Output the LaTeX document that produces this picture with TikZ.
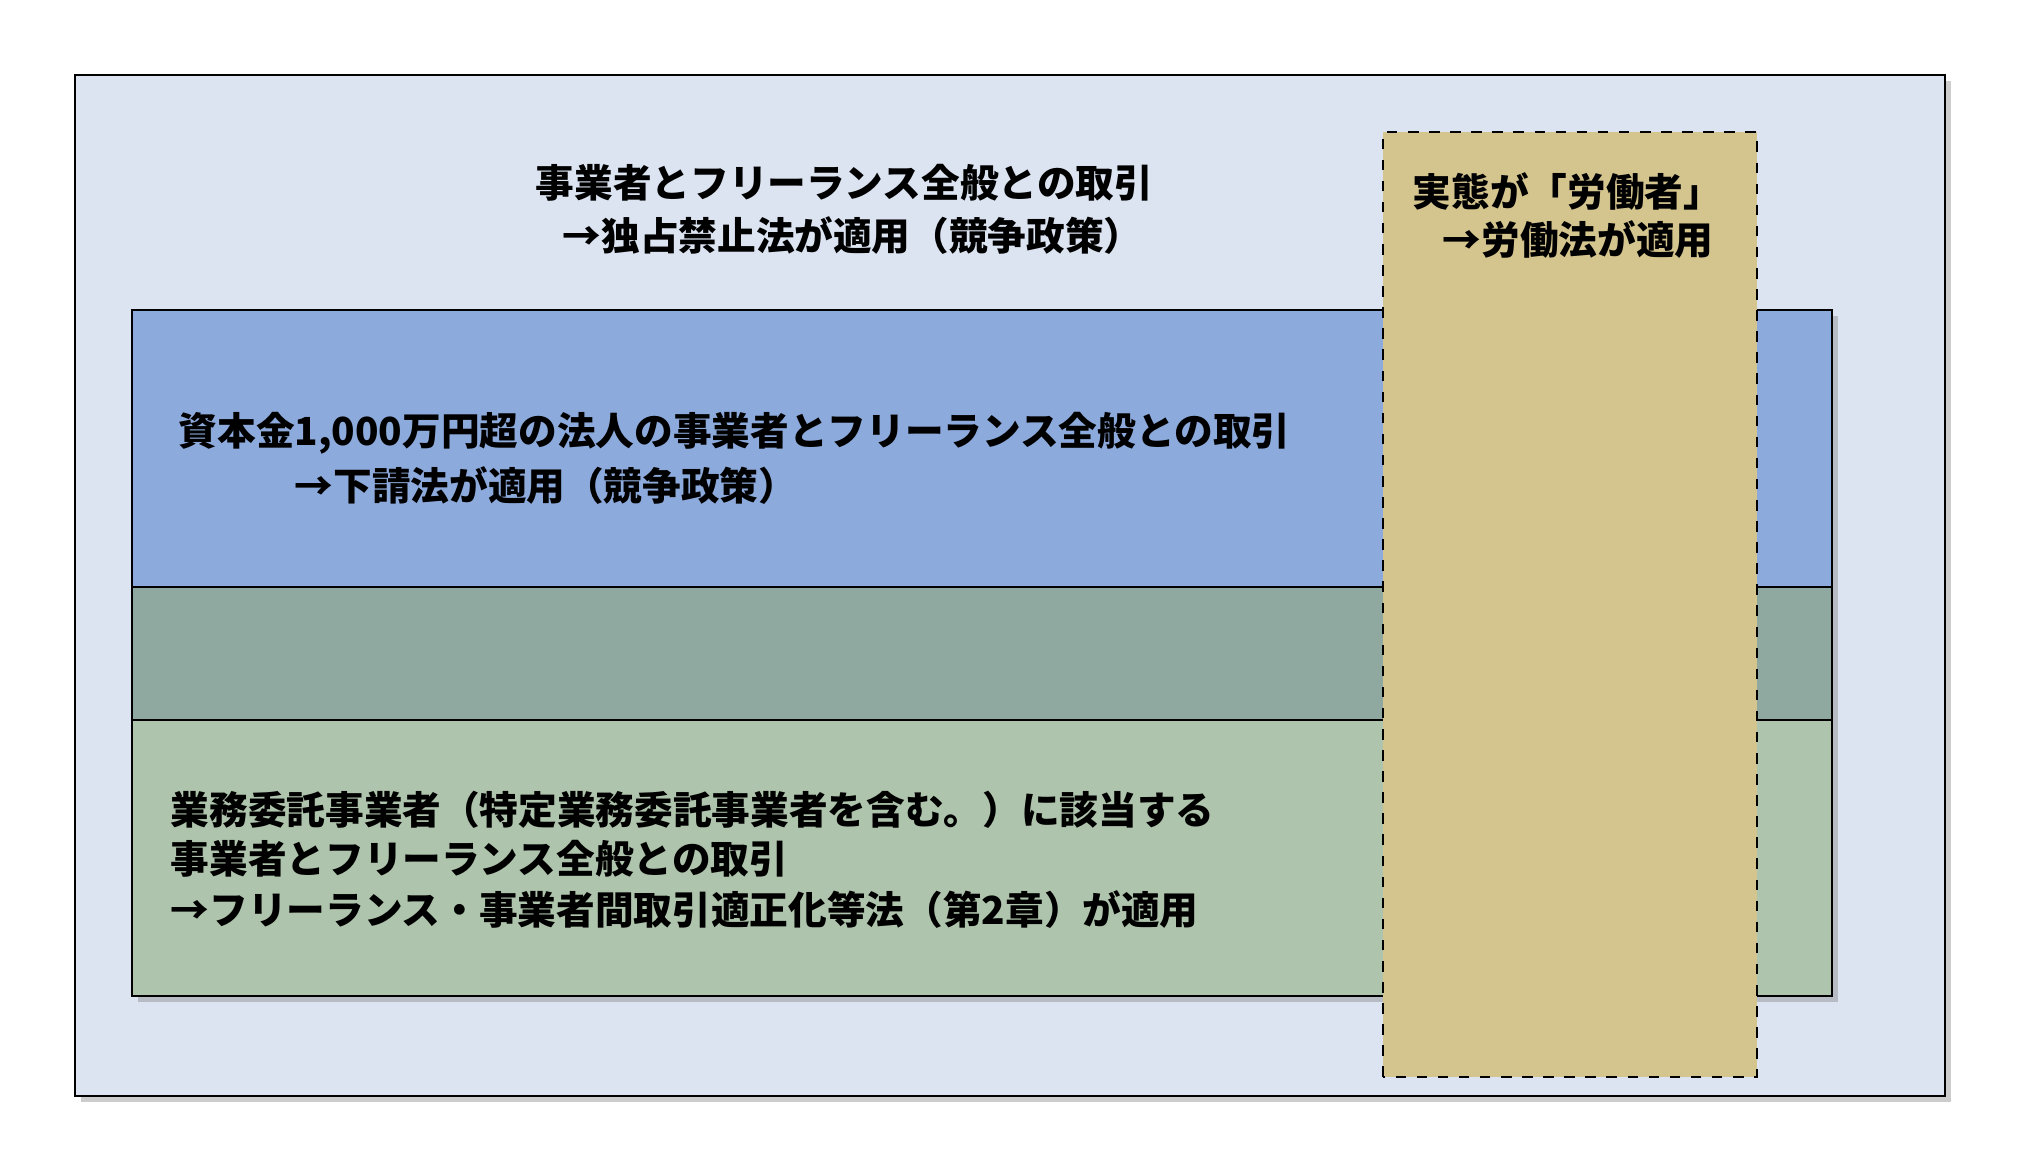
\documentclass[tikz,border=0pt]{standalone}
\usepackage{fontspec}
\newfontfamily\jpfont{Noto Sans CJK JP}
\usetikzlibrary{shadows}
\definecolor{outerbg}{RGB}{220,228,242}
\definecolor{bluebox}{RGB}{141,170,220}
\definecolor{midbox}{RGB}{143,168,160}
\definecolor{greenbox}{RGB}{175,196,172}
\definecolor{tanbox}{RGB}{212,196,142}
\tikzset{
  lawtext/.style={anchor=west, inner sep=0pt, font=\jpfont\bfseries\fontsize{11}{15}\selectfont},
  layer/.style={draw=black, thick, drop shadow={shadow xshift=0.6mm, shadow yshift=-0.6mm, opacity=0.4}}
}
\begin{document}
\begin{tikzpicture}
\useasboundingbox (0,0) rectangle (20.22,11.58);
%%%%%%%%%%%%%%%%%%%%%%%%%%%%%%%%%%%%%%%%%%% layers
\draw[layer, fill=outerbg] (0.75,0.62) rectangle (19.45,10.83);
\draw[layer, fill=bluebox] (1.32,5.71) rectangle (18.32,8.48);
\draw[layer, fill=midbox] (1.32,4.38) rectangle (18.32,5.71);
\draw[layer, fill=greenbox] (1.32,1.62) rectangle (18.32,4.38);
\draw[thick, dashed, fill=tanbox] (13.83,0.81) rectangle (17.57,10.26);

%%%%%%%%%%%%%%%%%%%%%%%%%%%%%%%%%%%%%%%%%%% texts
\node[lawtext] (gen1) at (5.35,9.75) {事業者とフリーランス全般との取引};
\node[lawtext] (gen2) at (5.62,9.22) {→独占禁止法が適用（競争政策）};
\node[lawtext] (sub1) at (1.78,7.25) {資本金1,000万円超の法人の事業者とフリーランス全般との取引};
\node[lawtext] (sub2) at (2.94,6.72) {→下請法が適用（競争政策）};
\node[lawtext] (fl1) at (1.70,3.48) {業務委託事業者（特定業務委託事業者を含む。）に該当する};
\node[lawtext] (fl2) at (1.70,2.99) {事業者とフリーランス全般との取引};
\node[lawtext] (fl3) at (1.70,2.48) {→フリーランス・事業者間取引適正化等法（第2章）が適用};
\node[lawtext] (lab1) at (14.12,9.67) {実態が「労働者」};
\node[lawtext] (lab2) at (14.42,9.18) {→労働法が適用};
\end{tikzpicture}
\end{document}
